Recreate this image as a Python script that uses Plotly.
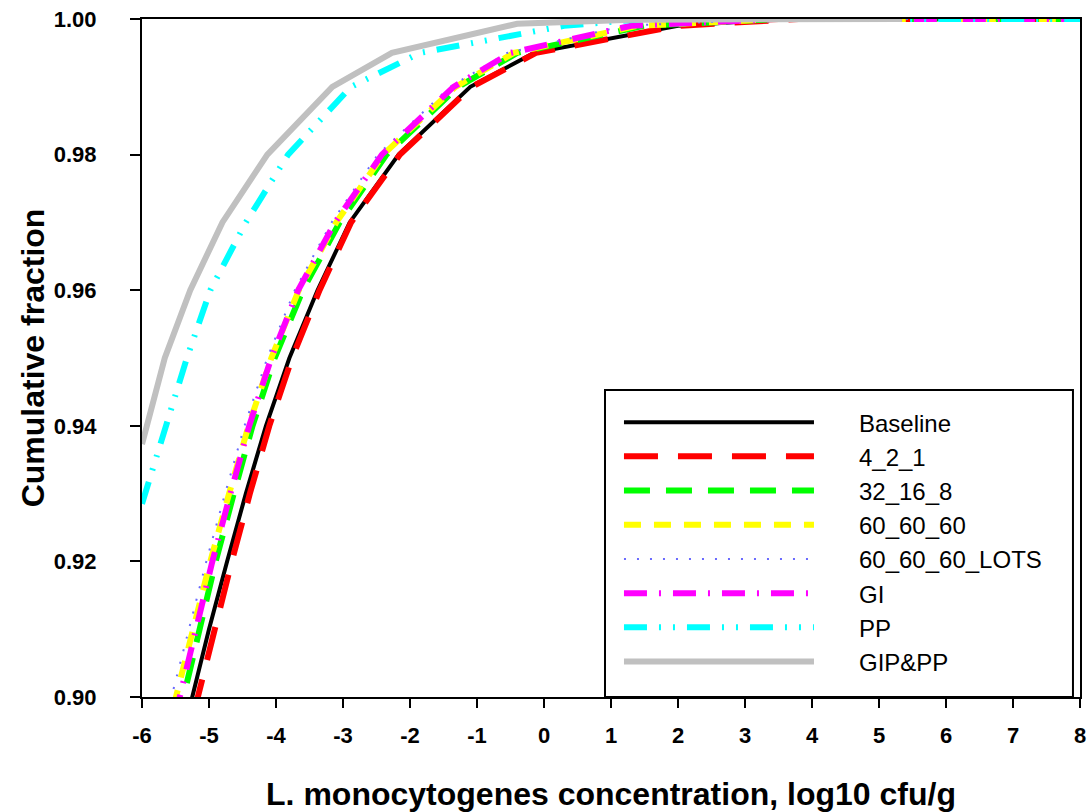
import plotly.graph_objects as go

# ---- data ----
y_common = [0.89, 0.90, 0.91, 0.92, 0.93, 0.94, 0.95, 0.96, 0.97, 0.98, 0.99, 0.995, 0.999, 1.0, 1.0]

x_baseline = [-5.50, -5.25, -5.00, -4.73, -4.45, -4.15, -3.80, -3.38, -2.90, -2.17, -1.10, -0.15, 2.0, 3.6, 8]
x_4_2_1 = [-5.42, -5.17, -4.92, -4.66, -4.39, -4.10, -3.76, -3.35, -2.88, -2.15, -1.08, -0.12, 2.0, 3.8, 8]
x_32_16_8 = [-5.62, -5.38, -5.14, -4.90, -4.63, -4.35, -4.02, -3.60, -3.05, -2.35, -1.28, -0.40, 1.5, 3.5, 8]
x_60_60_60 = [-5.75, -5.50, -5.24, -4.98, -4.70, -4.41, -4.07, -3.66, -3.10, -2.40, -1.32, -0.45, 1.4, 3.5, 8]
x_60_lots = [-5.80, -5.56, -5.30, -5.04, -4.76, -4.47, -4.13, -3.72, -3.17, -2.48, -1.40, -0.55, 1.2, 3.5, 8]
x_gi = [-5.68, -5.44, -5.20, -4.95, -4.68, -4.40, -4.07, -3.67, -3.12, -2.42, -1.35, -0.50, 1.3, 3.5, 8]

x_pp = [-6.0, -5.65, -5.33, -4.98, -4.45, -3.82, -2.88, -1.85, 0.3, 1.5, 8]
y_pp = [0.9285, 0.94, 0.95, 0.96, 0.97, 0.98, 0.99, 0.995, 0.999, 1.0, 1.0]

x_gippp = [-6.0, -5.66, -5.28, -4.80, -4.13, -3.16, -2.27, -0.40, 1.3, 5.34]
y_gippp = [0.9373, 0.95, 0.96, 0.97, 0.98, 0.99, 0.995, 0.9993, 0.9999, 1.0]

x_ticks = list(range(-6, 9))
y_ticks = [0.90, 0.92, 0.94, 0.96, 0.98, 1.00]

FONT = "Arial, Liberation Sans, sans-serif"
LEAD = "&nbsp;" * 6
TRAIL = "&nbsp;" * 1

series = [
    ("Baseline", x_baseline, y_common, "#000000", 4, "solid"),
    ("4_2_1", x_4_2_1, y_common, "#ff0000", 6, "34px,20px"),
    ("32_16_8", x_32_16_8, y_common, "#00ff00", 6, "26px,16px"),
    ("60_60_60", x_60_60_60, y_common, "#ffff00", 6, "17px,13px"),
    ("60_60_60_LOTS", x_60_lots, y_common, "#6a6aff", 2, "2px,11px"),
    ("GI", x_gi, y_common, "#ff00ff", 6, "23px,12px,2px,12px"),
    ("PP", x_pp, y_pp, "#00ffff", 6, "23px,12px,2px,12px,2px,12px"),
    ("GIP&PP", x_gippp, y_gippp, "#c0c0c0", 6, "solid"),
]

fig = go.Figure()
for i, (name, xs, ys, color, width, dash) in enumerate(series):
    fig.add_trace(go.Scatter(
        x=xs, y=ys, mode="lines",
        name=LEAD + name.replace("&", "&amp;") + TRAIL, legendgroup=f"g{i}",
        line=dict(color=color, width=width, dash=dash),
    ))

# legend frame
fig.add_shape(type="rect", xref="paper", yref="paper",
              x0=0.4936, x1=0.9925, y0=0, y1=0.4528,
              line=dict(color="black", width=2), fillcolor="white", layer="above")

fig.update_layout(
    width=1092, height=812,
    margin=dict(l=142, r=12, t=19, b=115),
    paper_bgcolor="white", plot_bgcolor="white",
    font=dict(family=FONT, color="black"),
    showlegend=True,
    legend=dict(
        x=0.5085, y=0.438, xanchor="left", yanchor="top",
        borderwidth=0, bgcolor="rgba(0,0,0,0)",
        font=dict(size=24, family=FONT),
        itemwidth=190, tracegroupgap=0, traceorder="grouped",
    ),
    xaxis=dict(
        range=[-6, 8], tickvals=x_ticks, ticktext=[str(v) for v in x_ticks],
        showline=True, linecolor="black", linewidth=2, mirror=True,
        ticks="outside", ticklen=9, tickwidth=2, tickcolor="black",
        showgrid=False, zeroline=False, automargin=False,
        ticklabeloverflow="allow",
        tickfont=dict(size=22, family=FONT, weight="bold"),
        ticklabelstandoff=9,
        title=dict(text="<b>L. monocytogenes concentration, log10 cfu/g</b>",
                   font=dict(size=32, family=FONT), standoff=36),
    ),
    yaxis=dict(
        range=[0.90, 1.00], tickvals=y_ticks, ticktext=[f"{v:.2f}" for v in y_ticks],
        showline=True, linecolor="black", linewidth=2, mirror=True,
        ticks="outside", ticklen=10, tickwidth=2, tickcolor="black",
        showgrid=False, zeroline=False, automargin=False,
        ticklabeloverflow="allow",
        tickfont=dict(size=22, family=FONT, weight="bold"),
        ticklabelstandoff=29,
        title=dict(text="<b>Cumulative fraction</b>", font=dict(size=32, family=FONT), standoff=0),
    ),
)

fig.write_html(
    "out.html",
    config={"displayModeBar": False},
    post_script="document.body.style.margin='0';document.body.style.overflow='hidden';",
)
